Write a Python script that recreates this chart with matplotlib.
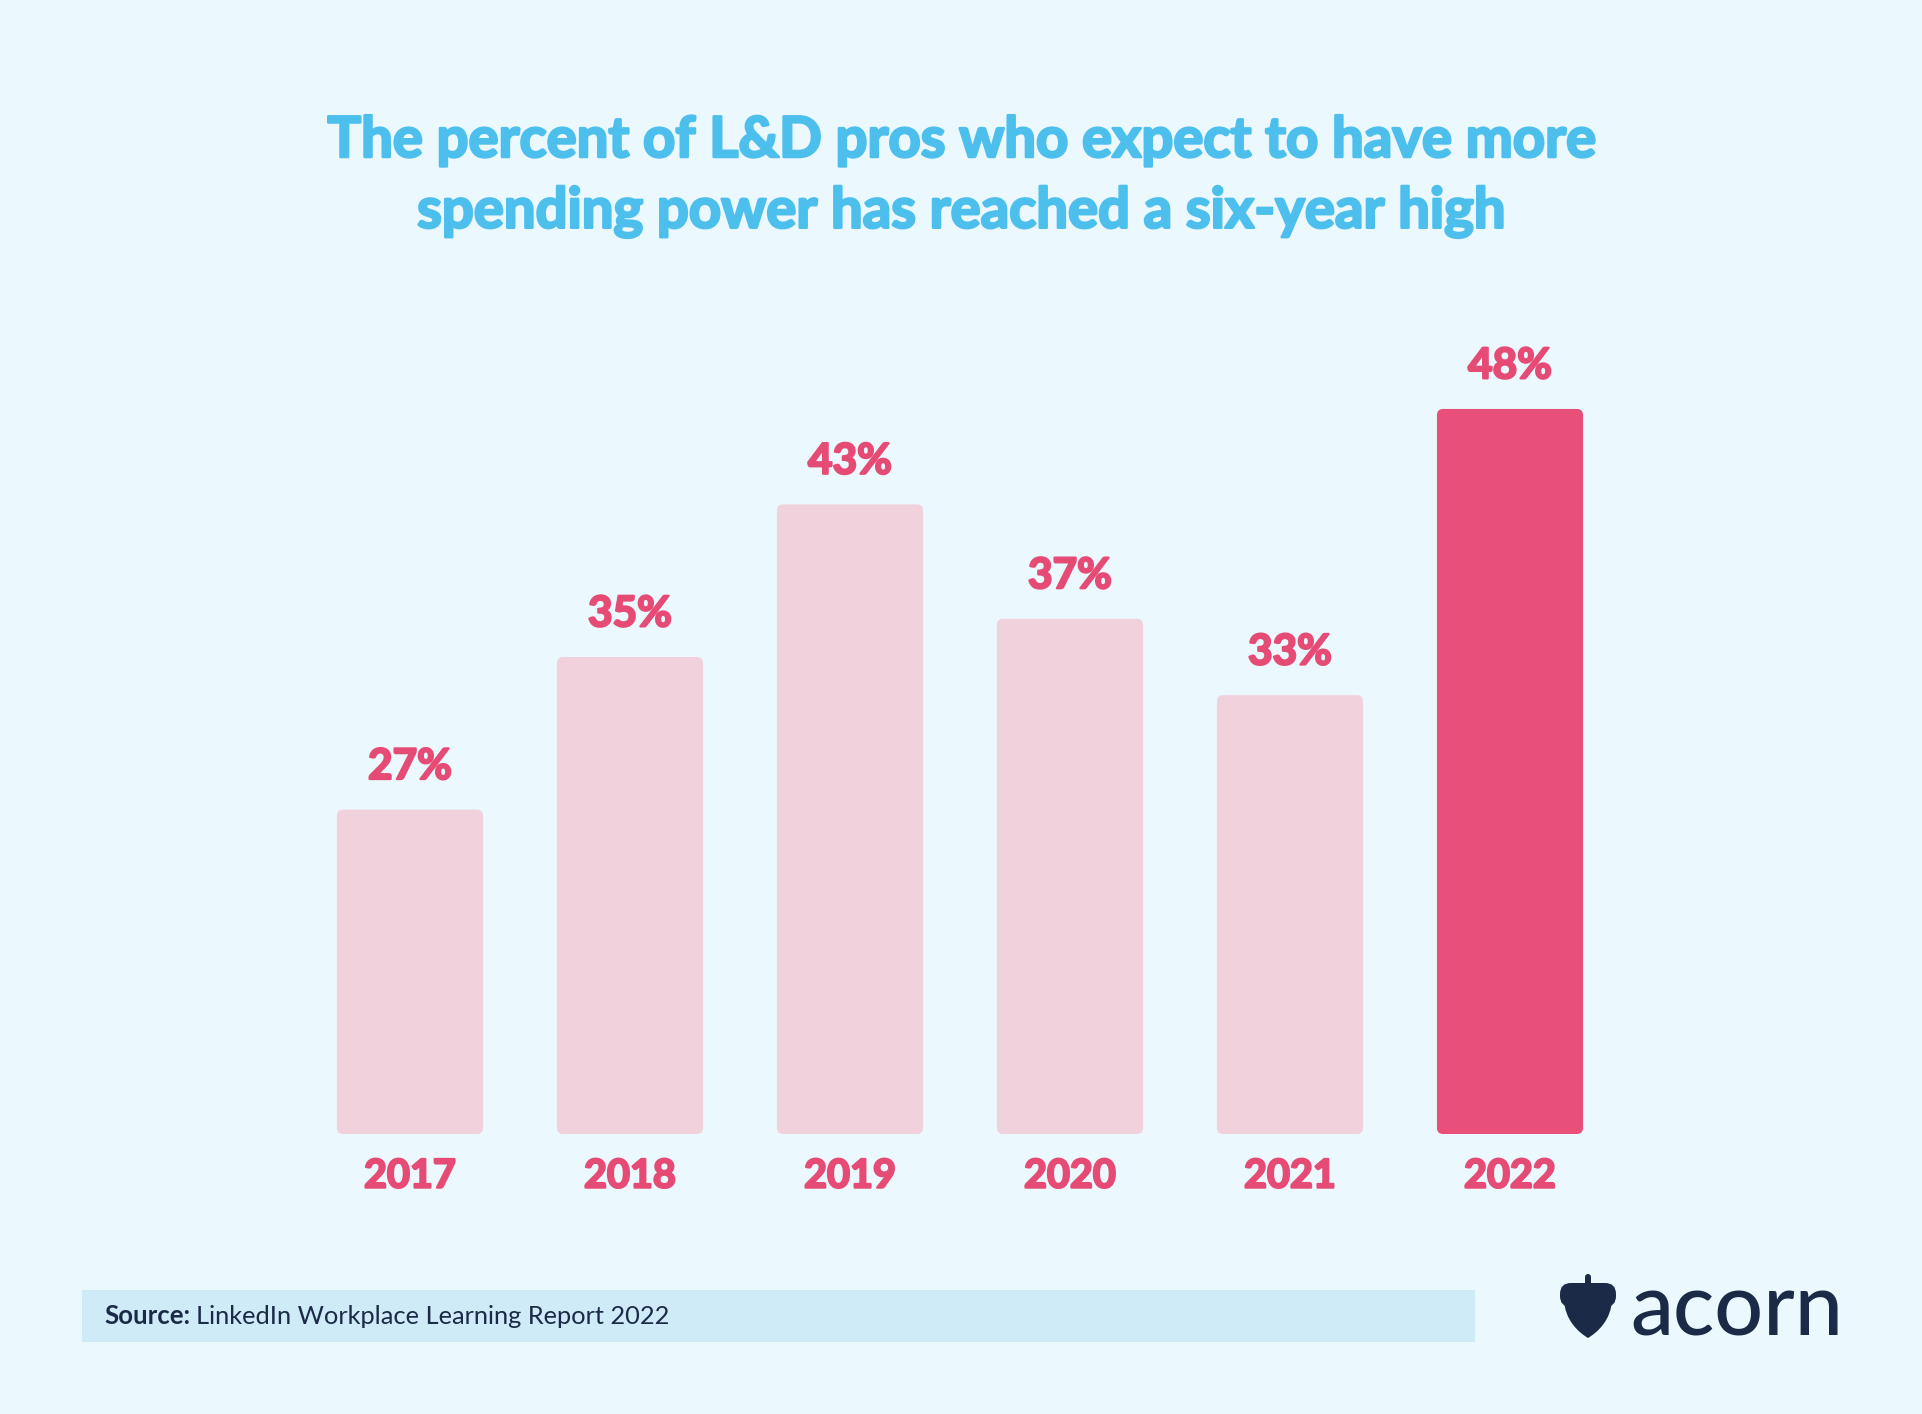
import matplotlib
matplotlib.use("Agg")
import matplotlib.pyplot as plt
import matplotlib.patheffects as pe
from matplotlib.patches import FancyBboxPatch, Rectangle, PathPatch
from matplotlib.path import Path

# ---- data ----
years = ["2017", "2018", "2019", "2020", "2021", "2022"]
values = [27, 35, 43, 37, 33, 48]
value_labels = ["27%", "35%", "43%", "37%", "33%", "48%"]
highlight = "2022"

title_lines = ["The percent of L&D pros who expect to have more",
               "spending power has reached a six-year high"]
source_bold = "Source:"
source_text = "LinkedIn Workplace Learning Report 2022"
brand = "acorn"

# ---- style ----
BG = "#EBF8FD"
BAR_LIGHT = "#F1D1DC"
BAR_HI = "#E84F79"
PINK_TXT = "#E54B74"
TITLE_C = "#4DBFEC"
NAVY = "#1B2B47"
SRC_BOX = "#CFEBF8"
FAM = ["Lato", "DejaVu Sans"]

W, H = 1922, 1414
fig = plt.figure(figsize=(W / 100, H / 100), dpi=100)
fig.patch.set_facecolor(BG)

BASE = 10
PX_PER_UNIT = 19.08
SPACING = 220.0
ax_left, ax_w = 300, 1320
ax_bottom_px = 1134
ylim_top = 60
ax_h = (ylim_top - BASE) * PX_PER_UNIT
ax = fig.add_axes([ax_left / W, (H - ax_bottom_px) / H, ax_w / W, ax_h / H])
ax.set_facecolor("none")
x = list(range(len(years)))
colors = [BAR_HI if y == highlight else BAR_LIGHT for y in years]
bars = ax.bar(x, [v - BASE for v in values], bottom=BASE, width=0.664, color=colors)
ax.set_xlim(-0.5, len(years) - 0.5)
ax.set_ylim(BASE, ylim_top)
for b in bars:
    bx, by = b.get_xy()
    rp = FancyBboxPatch((bx, by), b.get_width(), b.get_height(),
                        boxstyle="round,pad=0,rounding_size=0.028",
                        mutation_aspect=SPACING / PX_PER_UNIT,
                        fc=b.get_facecolor(), ec="none")
    b.set_visible(False)
    ax.add_patch(rp)

pink_fx = [pe.withStroke(linewidth=1.6, foreground=PINK_TXT)]
for xi, v, lab in zip(x, values, value_labels):
    ax.annotate(lab, (xi, v), xytext=(0, 17), textcoords="offset points",
                ha="center", va="bottom", fontsize=30.5, fontweight="bold",
                color=PINK_TXT, family=FAM, path_effects=pink_fx)

ax.set_xticks(x, labels=years)
ax.tick_params(axis="x", length=0, pad=17)
for t in ax.get_xticklabels():
    t.set_fontsize(28.5)
    t.set_fontweight("bold")
    t.set_color(PINK_TXT)
    t.set_family(FAM)
    t.set_path_effects(pink_fx)
ax.set_yticks([])
for s in ax.spines.values():
    s.set_visible(False)

# ---- title ----
title_fx = [pe.withStroke(linewidth=1.8, foreground=TITLE_C)]
fig.text(0.5, 1 - 141 / H, title_lines[0], ha="center", va="center",
         fontsize=40.5, fontweight="bold", color=TITLE_C, family=FAM,
         path_effects=title_fx)
fig.text(0.5, 1 - 212 / H, title_lines[1], ha="center", va="center",
         fontsize=40.5, fontweight="bold", color=TITLE_C, family=FAM,
         path_effects=title_fx)

# ---- overlay (pixel coords) ----
ov = fig.add_axes([0, 0, 1, 1])
ov.set_xlim(0, W)
ov.set_ylim(H, 0)
ov.axis("off")
ov.set_facecolor("none")

ov.add_patch(Rectangle((82, 1290), 1393, 52, fc=SRC_BOX, ec="none"))
t1 = ov.text(104, 1316, source_bold, ha="left", va="center", fontsize=18.5,
             fontweight="bold", color=NAVY, family=FAM)
fig.canvas.draw()
bb = t1.get_window_extent()
ov.text(bb.x1 + 6, 1316, source_text, ha="left", va="center", fontsize=18.3,
        color=NAVY, family=FAM)

# acorn icon
ov.add_patch(FancyBboxPatch((1585, 1274), 6, 12, boxstyle="round,pad=0,rounding_size=3",
                            fc=NAVY, ec="none"))
ov.add_patch(FancyBboxPatch((1560, 1283), 56, 24, boxstyle="round,pad=0,rounding_size=11",
                            fc=NAVY, ec="none"))
verts = [(1564, 1300), (1565, 1320), (1578, 1332), (1588, 1338),
         (1598, 1332), (1611, 1320), (1612, 1300), (1564, 1300)]
codes = [Path.MOVETO, Path.CURVE4, Path.CURVE4, Path.CURVE4,
         Path.CURVE4, Path.CURVE4, Path.CURVE4, Path.CLOSEPOLY]
ov.add_patch(PathPatch(Path(verts, codes), fc=NAVY, ec="none"))
ov.text(1630, 1335, brand, ha="left", va="baseline", fontsize=62,
        color=NAVY, family=FAM, fontweight="medium")

fig.savefig("out.png", dpi=100, facecolor=BG)
